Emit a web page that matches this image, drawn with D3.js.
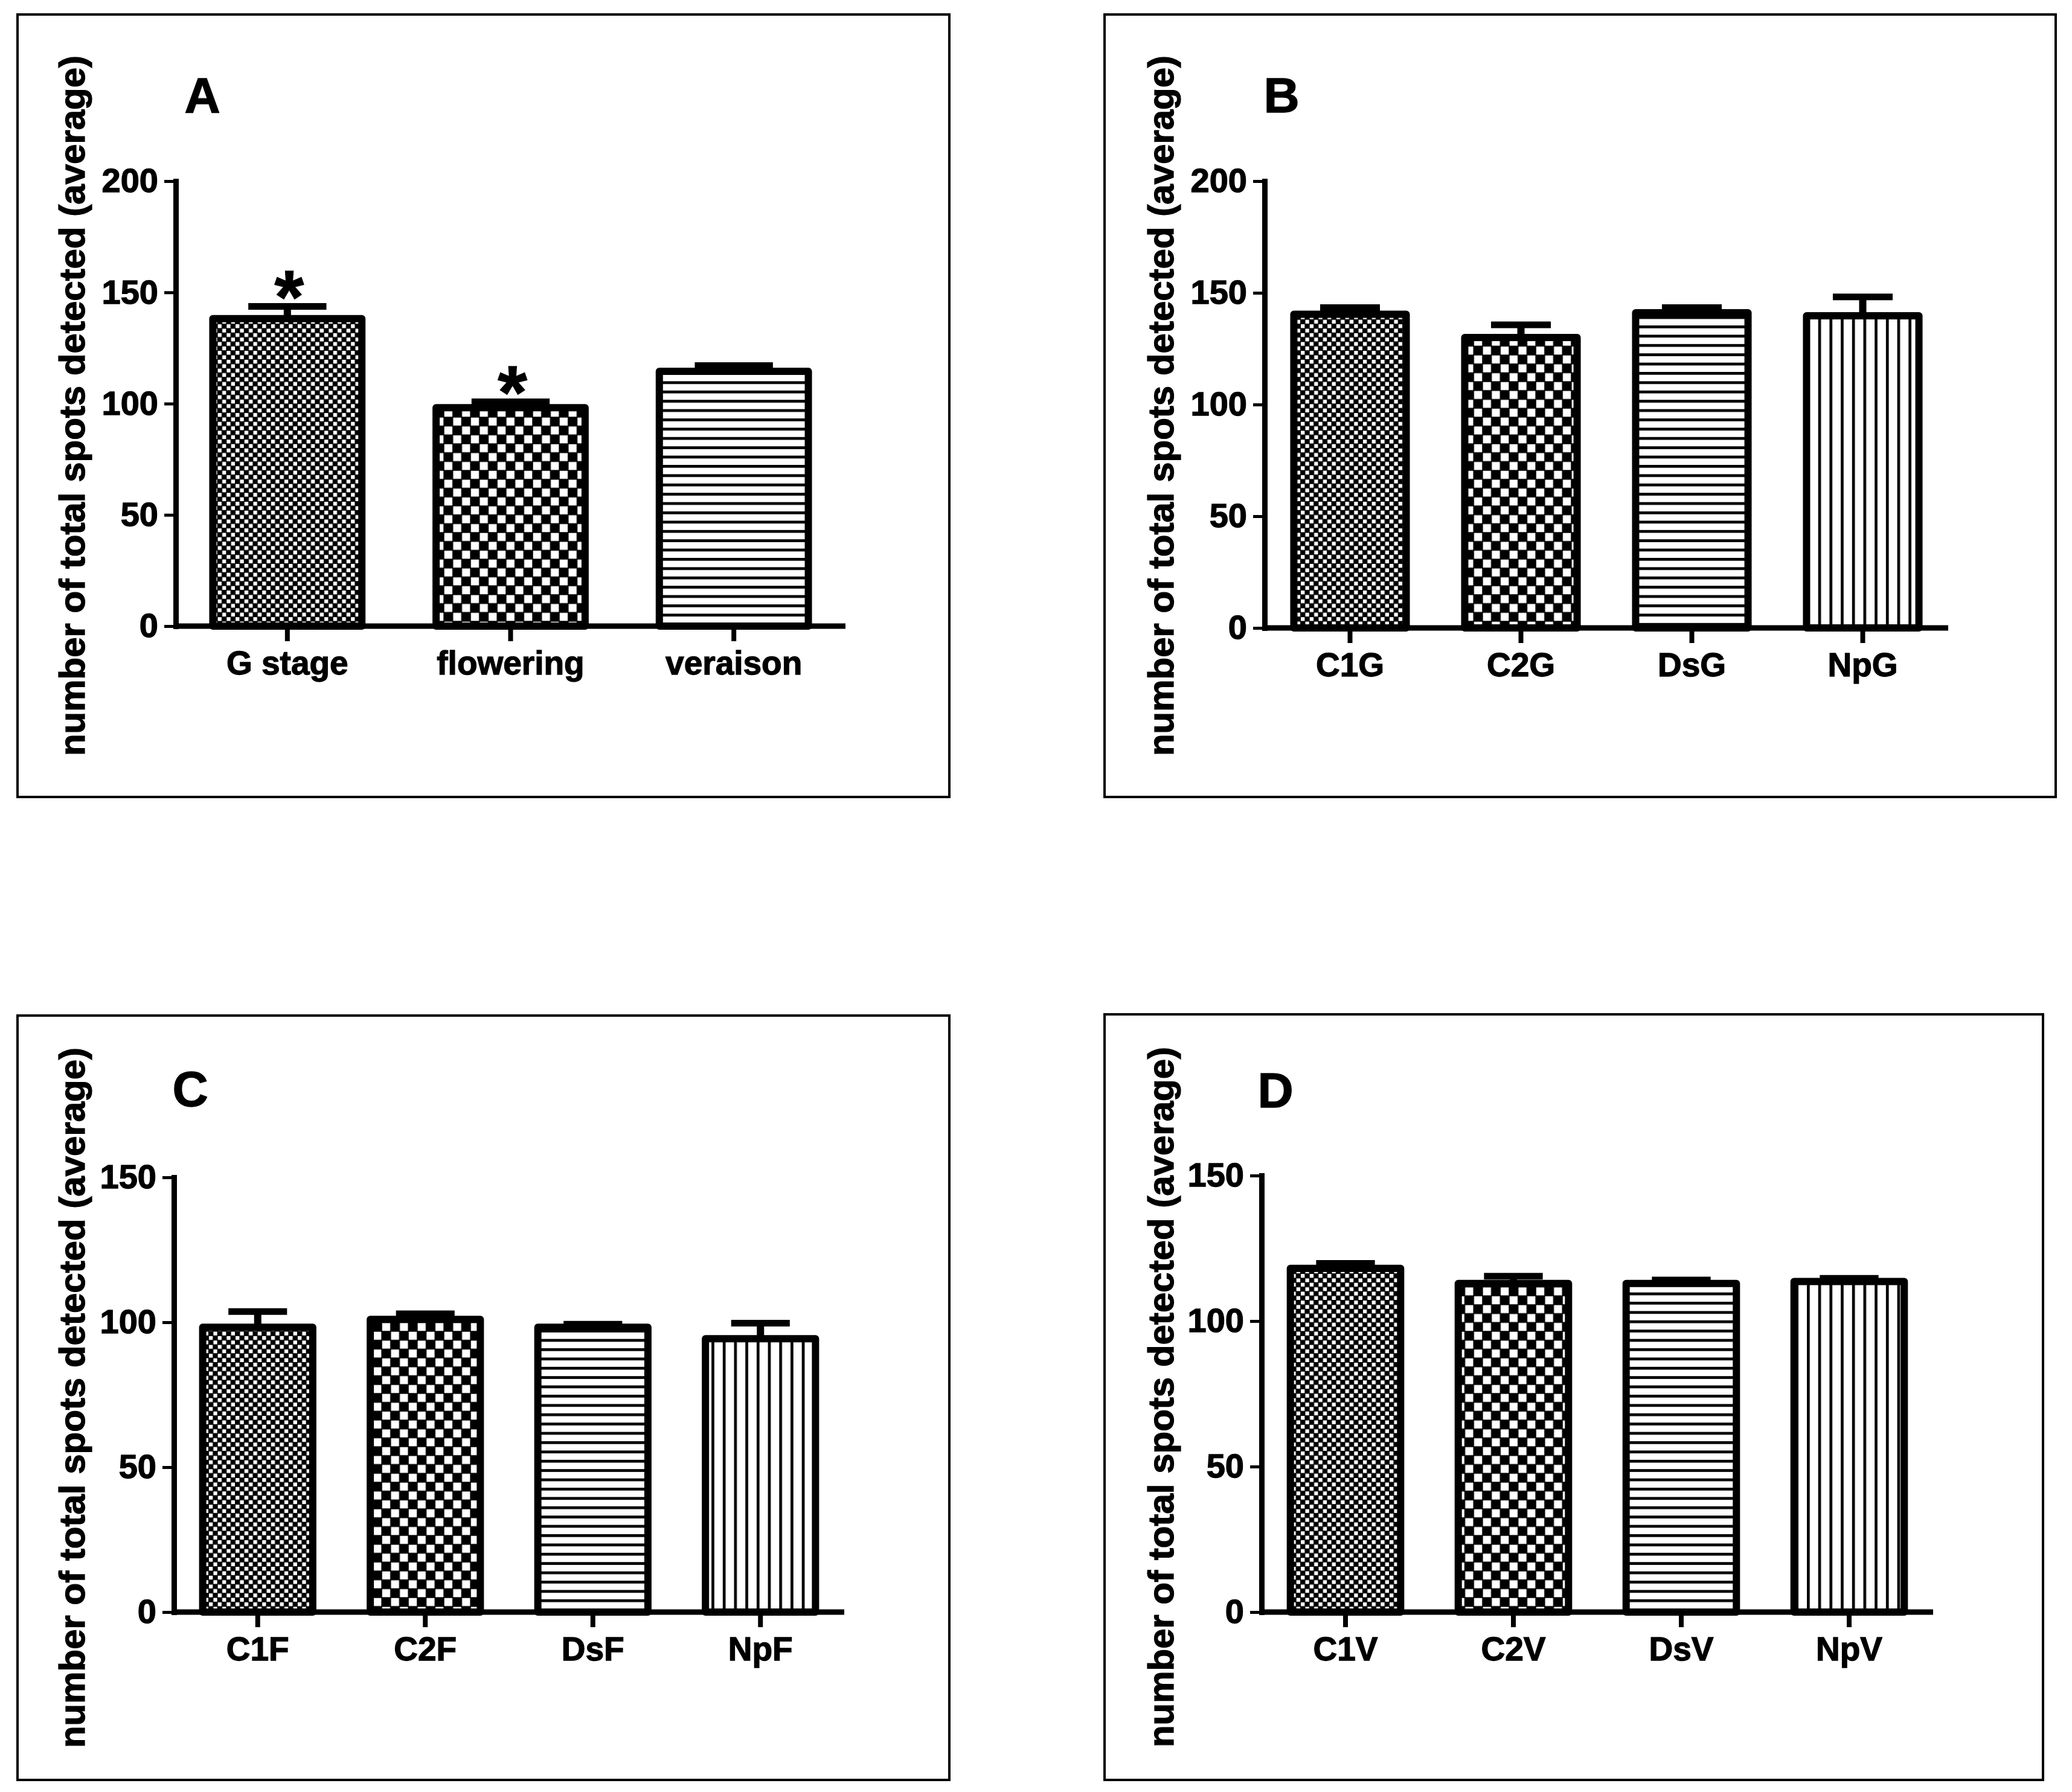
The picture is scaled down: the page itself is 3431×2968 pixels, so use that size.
<!DOCTYPE html>
<html>
<head>
<meta charset="utf-8">
<script src="https://cdnjs.cloudflare.com/ajax/libs/d3/7.8.5/d3.min.js"></script>
<style>
  body { margin: 0; background: #fff; }
  text { font-family: "Liberation Sans", Arial, sans-serif; font-weight: bold; stroke: #000; stroke-width: 1.3px; }
</style>
</head>
<body>
<script>
// Data
var labelsA = ["G stage", "flowering", "veraison"];
var meansA = [138.2, 98.2, 114.5];
var semA = [5.5, 2.6, 2.6];
var starsA = ["*", "*", ""];

var labelsB = ["C1G", "C2G", "DsG", "NpG"];
var meansB = [140.4, 130.0, 141.1, 139.7];
var semB = [3.0, 5.7, 2.3, 8.5];

var labelsC = ["C1F", "C2F", "DsF", "NpF"];
var meansC = [98.3, 101.0, 98.3, 94.3];
var semC = [5.4, 1.9, 1.0, 5.4];

var labelsD = ["C1V", "C2V", "DsV", "NpV"];
var meansD = [118.1, 112.9, 112.9, 113.6];
var semD = [1.7, 2.5, 1.2, 1.1];

var ticksAB = [0, 50, 100, 150, 200];
var ticksCD = [0, 50, 100, 150];

var yTitle = "number of total spots detected (average)";

// Define SVG area dimensions
var svgWidth = 3431;
var svgHeight = 2968;

// Layout of the four panels (pixels)
var panels = [
  { letter: "A", labels: labelsA, means: meansA, sem: semA, stars: starsA, ticks: ticksAB,
    box: [29, 24, 1572, 1320], axL: 291, axR: 1400, y0: 1037, yTop: 300, titleX: 140, letterX: 335, letterY: 186 },
  { letter: "B", labels: labelsB, means: meansB, sem: semB, stars: null, ticks: ticksAB,
    box: [1829, 24, 3404, 1320], axL: 2094, axR: 3226, y0: 1040, yTop: 300, titleX: 1943, letterX: 2122, letterY: 186 },
  { letter: "C", labels: labelsC, means: meansC, sem: semC, stars: null, ticks: ticksCD,
    box: [29, 1682, 1572, 2948], axL: 288, axR: 1398, y0: 2670, yTop: 1950, titleX: 140, letterX: 315, letterY: 1832 },
  { letter: "D", labels: labelsD, means: meansD, sem: semD, stars: null, ticks: ticksCD,
    box: [1829, 1680, 3383, 2948], axL: 2089, axR: 3201, y0: 2670, yTop: 1947, titleX: 1943, letterX: 2112, letterY: 1834 }
];

var patternIds = ["fineCheck", "coarseCheck", "hStripe", "vStripe"];

var svg = d3.select("body")
  .append("svg")
  .attr("width", svgWidth)
  .attr("height", svgHeight);

svg.append("rect")
  .attr("width", svgWidth)
  .attr("height", svgHeight)
  .attr("fill", "#fff");

// Fill patterns
var defs = svg.append("defs");

function checker(id, size, white) {
  var p = defs.append("pattern")
    .attr("id", id)
    .attr("patternUnits", "userSpaceOnUse")
    .attr("width", size)
    .attr("height", size);
  p.append("rect").attr("width", size).attr("height", size).attr("fill", "#000");
  var off = (size / 2 - white) / 2;
  p.append("rect").attr("x", off).attr("y", off).attr("width", white).attr("height", white).attr("fill", "#fff");
  p.append("rect").attr("x", off + size / 2).attr("y", off + size / 2).attr("width", white).attr("height", white).attr("fill", "#fff");
}
checker("fineCheck", 14.7, 6.3);
checker("coarseCheck", 29.4, 13.3);

var hs = defs.append("pattern")
  .attr("id", "hStripe")
  .attr("patternUnits", "userSpaceOnUse")
  .attr("width", 10)
  .attr("height", 15.4);
hs.append("rect").attr("width", 10).attr("height", 15.4).attr("fill", "#fff");
hs.append("rect").attr("width", 10).attr("height", 4.7).attr("fill", "#000");

var vs = defs.append("pattern")
  .attr("id", "vStripe")
  .attr("patternUnits", "userSpaceOnUse")
  .attr("width", 18.7)
  .attr("height", 10);
vs.append("rect").attr("width", 18.7).attr("height", 10).attr("fill", "#fff");
vs.append("rect").attr("width", 4.7).attr("height", 10).attr("fill", "#000");

panels.forEach(function(p) {
  var g = svg.append("g");

  // Panel frame
  g.append("rect")
    .attr("x", p.box[0])
    .attr("y", p.box[1])
    .attr("width", p.box[2] - p.box[0])
    .attr("height", p.box[3] - p.box[1])
    .attr("fill", "none")
    .attr("stroke", "#000")
    .attr("stroke-width", 4);

  // Scales
  var x = d3.scaleBand()
    .domain(p.labels)
    .range([p.axL, p.axR])
    .paddingInner(0.3)
    .paddingOuter(0.15);

  var y = d3.scaleLinear()
    .domain([0, d3.max(p.ticks)])
    .range([p.y0, p.yTop]);

  // Bars
  var sw = 12;
  var rows = p.labels.map(function(l, i) {
    return { label: l, mean: p.means[i], sem: p.sem[i], star: p.stars ? p.stars[i] : "", pat: patternIds[i] };
  });

  g.selectAll("rect.bar")
    .data(rows)
    .enter()
    .append("rect")
    .attr("class", "bar")
    .attr("x", d => x(d.label) + sw / 2)
    .attr("y", d => y(d.mean))
    .attr("width", x.bandwidth() - sw)
    .attr("height", d => y(0) - y(d.mean))
    .attr("fill", d => "url(#" + d.pat + ")")
    .attr("stroke", "#000")
    .attr("stroke-width", sw)
    .attr("stroke-linejoin", "round");

  // Error bars (upper half only)
  var cx = d => x(d.label) + x.bandwidth() / 2;
  g.selectAll("line.stem")
    .data(rows)
    .enter()
    .append("line")
    .attr("x1", cx).attr("x2", cx)
    .attr("y1", d => y(d.mean))
    .attr("y2", d => y(d.mean + d.sem))
    .attr("stroke", "#000")
    .attr("stroke-width", 12);

  g.selectAll("line.cap")
    .data(rows)
    .enter()
    .append("line")
    .attr("x1", d => cx(d) - x.bandwidth() / 4)
    .attr("x2", d => cx(d) + x.bandwidth() / 4)
    .attr("y1", d => y(d.mean + d.sem))
    .attr("y2", d => y(d.mean + d.sem))
    .attr("stroke", "#000")
    .attr("stroke-width", 11);

  // Significance marks
  g.selectAll("text.star")
    .data(rows.filter(d => d.star))
    .enter()
    .append("text")
    .attr("x", d => cx(d) + 3)
    .attr("y", d => y(d.mean + d.sem) - 25 + 0.42 * 125)
    .attr("text-anchor", "middle")
    .attr("font-size", 125)
    .text(d => d.star);

  // Axes
  var leftAxis = d3.axisLeft(y).tickValues(p.ticks).tickSize(19).tickSizeOuter(0).tickPadding(10);
  var bottomAxis = d3.axisBottom(x).tickSize(25).tickSizeOuter(0).tickPadding(16);

  var ya = g.append("g")
    .attr("transform", `translate(${p.axL}, 0)`)
    .call(leftAxis);
  ya.select(".domain").attr("stroke", "#000").attr("stroke-width", 9).attr("stroke-linecap", "square");
  ya.selectAll(".tick line").attr("stroke", "#000").attr("stroke-width", 5);
  ya.selectAll(".tick text")
    .attr("fill", "#000")
    .attr("font-size", 56)
    .attr("font-family", "Liberation Sans, Arial, sans-serif")
    .attr("font-weight", "bold");

  var xa = g.append("g")
    .attr("transform", `translate(0, ${p.y0})`)
    .call(bottomAxis);
  xa.select(".domain")
    .attr("d", `M${p.axL},0H${p.axR}`)
    .attr("stroke", "#000").attr("stroke-width", 9);
  xa.selectAll(".tick line").attr("stroke", "#000").attr("stroke-width", 8);
  xa.selectAll(".tick text")
    .attr("fill", "#000")
    .attr("font-size", 55)
    .attr("font-family", "Liberation Sans, Arial, sans-serif")
    .attr("font-weight", "bold");

  // Axis title
  g.append("text")
    .attr("transform", `translate(${p.titleX}, ${(p.box[1] + p.box[3]) / 2}) rotate(-90)`)
    .attr("text-anchor", "middle")
    .attr("font-size", 60)
    .text(yTitle);

  // Panel letter
  g.append("text")
    .attr("x", p.letterX)
    .attr("y", p.letterY)
    .attr("text-anchor", "middle")
    .attr("font-size", 82)
    .text(p.letter);
});
</script>
</body>
</html>
